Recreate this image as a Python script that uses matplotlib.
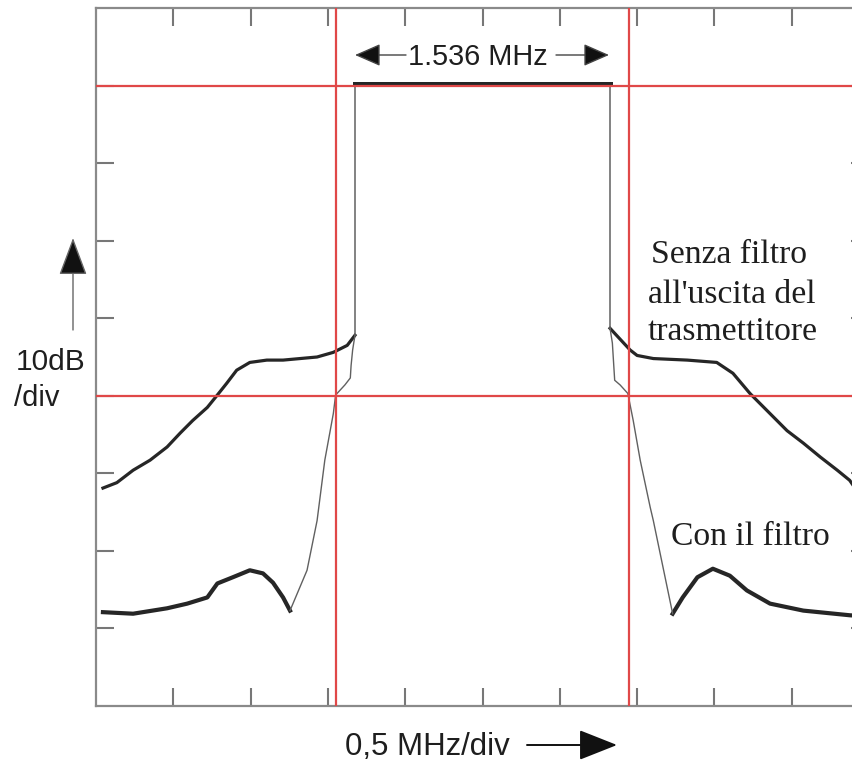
import matplotlib
matplotlib.use("Agg")
import matplotlib.pyplot as plt
from matplotlib.patches import FancyArrowPatch

# ---- data (x in divisions of 0.5 MHz, y in dB; top of screen = 0 dB) ----
# Unfiltered spectrum ("Senza filtro")
nf_left_x = [0.09, 0.27, 0.48, 0.70, 0.92, 1.09, 1.25, 1.44, 1.57, 1.69, 1.82, 1.99,
             2.21, 2.42, 2.64, 2.86, 3.07, 3.25, 3.35]
nf_left_y = [-61.9, -61.2, -59.6, -58.3, -56.6, -54.8, -53.2, -51.5, -49.9, -48.4, -46.7,
             -45.7, -45.4, -45.4, -45.2, -45.0, -44.4, -43.5, -42.2]
nf_right_x = [6.65, 6.91, 7.00, 7.21, 7.65, 8.03, 8.24, 8.46, 8.72, 8.94, 9.15, 9.37,
              9.59, 9.75, 9.82]
nf_right_y = [-41.3, -44.1, -44.8, -45.2, -45.4, -45.7, -47.1, -49.7, -52.3, -54.5,
              -56.1, -57.9, -59.6, -60.9, -61.9]
# in-band plateau
band_x = [3.35, 3.35, 6.65, 6.65]
band_y = [-42.2, -9.8, -9.8, -41.3]

# Filtered spectrum ("Con il filtro")
f_left_x = [0.09, 0.48, 0.92, 1.18, 1.44, 1.57, 1.77, 1.99, 2.16, 2.29, 2.42, 2.51]
f_left_y = [-77.9, -78.1, -77.4, -76.8, -76.0, -74.2, -73.4, -72.5, -72.9, -74.1, -76.0, -77.7]
f_left_edge_x = [2.51, 2.73, 2.86, 2.96, 3.07, 3.10, 3.22, 3.29, 3.30, 3.32, 3.35]
f_left_edge_y = [-77.7, -72.5, -66.1, -58.3, -52.3, -49.9, -48.6, -47.7, -46.1, -44.1, -42.2]
f_right_edge_x = [6.65, 6.68, 6.71, 6.78, 6.88, 6.95, 7.04, 7.17, 7.21, 7.46]
f_right_edge_y = [-41.3, -43.2, -48.0, -48.6, -49.7, -53.2, -58.3, -64.4, -66.1, -78.1]
f_right_x = [7.46, 7.59, 7.78, 7.98, 8.20, 8.42, 8.72, 9.15, 9.75, 9.90]
f_right_y = [-78.1, -76.0, -73.4, -72.3, -73.2, -75.1, -76.8, -77.7, -78.3, -78.4]

# reference (red) markers
red_h = [-10, -50]
red_v = [3.105, 6.895]

x_ticks = [1, 2, 3, 4, 5, 6, 7, 8, 9]
y_ticks = [-10, -20, -30, -40, -50, -60, -70, -80]

W, H = 853, 761
fig = plt.figure(figsize=(W / 100, H / 100), dpi=100)
fig.patch.set_facecolor("white")


def fx(px):
    return px / W


def fy(py):
    return 1 - py / H


ax = fig.add_axes([fx(96), fy(706), 773 / W, 698 / H])
ax.set_xlim(0, 10)
ax.set_ylim(-90, 0)
ax.set_xticks(x_ticks)
ax.set_yticks(y_ticks)
ax.tick_params(direction="in", length=13, width=1.5, colors="#777777",
               top=True, right=True, labelbottom=False, labelleft=False)
for s in ax.spines.values():
    s.set_color("#8a8a8a")
    s.set_linewidth(1.6)

trace = "#262626"
thin = "#606060"
# noisy traces drawn as thick bands
ax.plot(nf_left_x, nf_left_y, color=trace, lw=2.3, solid_joinstyle="round", zorder=3)
ax.plot(nf_right_x, nf_right_y, color=trace, lw=2.3, solid_joinstyle="round", zorder=3)
ax.plot(band_x[:2], band_y[:2], color=thin, lw=1.1, zorder=3)
ax.plot(band_x[2:], band_y[2:], color=thin, lw=1.1, zorder=3)
ax.plot(band_x[1:3], band_y[1:3], color=trace, lw=3.6, zorder=3)
ax.plot(f_left_x, f_left_y, color=trace, lw=3.0, solid_joinstyle="round", zorder=3)
ax.plot(f_right_x, f_right_y, color=trace, lw=3.0, solid_joinstyle="round", zorder=3)
ax.plot(f_left_edge_x, f_left_edge_y, color=thin, lw=1.0, zorder=3)
ax.plot(f_right_edge_x, f_right_edge_y, color=thin, lw=1.0, zorder=3)

for yv in red_h:
    ax.axhline(yv, color="#e04848", lw=1.6, zorder=4)
for xv in red_v:
    ax.axvline(xv, color="#e04848", lw=1.6, zorder=4)


def arrow(p0, p1, hl, hw, lw=1.2, ec="#222222", fc="#111111"):
    a = FancyArrowPatch((fx(p0[0]), fy(p0[1])), (fx(p1[0]), fy(p1[1])),
                        transform=fig.transFigure,
                        arrowstyle=f"-|>,head_length={hl},head_width={hw}",
                        mutation_scale=1, shrinkA=0, shrinkB=0,
                        edgecolor=ec, facecolor=fc, lw=lw)
    fig.add_artist(a)


sans = ["Liberation Sans", "DejaVu Sans"]
serif = ["Liberation Serif", "DejaVu Serif"]
tc = "#1e1e1e"

# top bandwidth label
fig.text(fx(477.5), fy(65), "1.536 MHz", family=sans, fontsize=20.8, color=tc,
         ha="center", va="baseline")
arrow((406, 55), (355, 55), 16, 7, lw=1.0, ec="#444444", fc="#111111")
arrow((556, 55), (609, 55), 16, 7, lw=1.0, ec="#444444", fc="#111111")

# vertical scale label
fig.text(fx(16), fy(370), "10dB", family=sans, fontsize=21.5, color=tc,
         ha="left", va="baseline")
fig.text(fx(14), fy(406), "/div", family=sans, fontsize=21, color=tc,
         ha="left", va="baseline")
arrow((73, 330), (73, 238), 24, 9, lw=1.0, ec="#666666", fc="#111111")

# horizontal scale label
fig.text(fx(345), fy(755), "0,5 MHz/div", family=sans, fontsize=22.5, color=tc,
         ha="left", va="baseline")
arrow((527, 745), (617, 745), 24, 9.5, lw=1.4, ec="#111111", fc="#111111")

# annotations
fig.text(fx(651), fy(263), "Senza filtro", family=serif, fontsize=24.2, color=tc,
         ha="left", va="baseline")
fig.text(fx(648), fy(303), "all'uscita del", family=serif, fontsize=24.2, color=tc,
         ha="left", va="baseline")
fig.text(fx(648), fy(340), "trasmettitore", family=serif, fontsize=24.2, color=tc,
         ha="left", va="baseline")
fig.text(fx(671), fy(545), "Con il filtro", family=serif, fontsize=24.2, color=tc,
         ha="left", va="baseline")

fig.savefig("out.png", dpi=100)
